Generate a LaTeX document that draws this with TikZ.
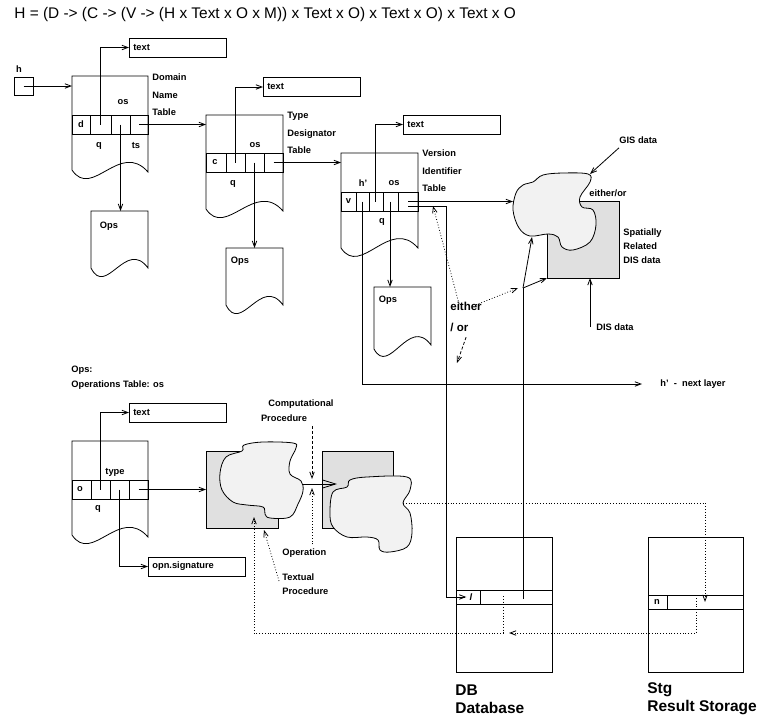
\documentclass[tikz,border=0pt]{standalone}
\usepackage{fontspec}
\setmainfont{Liberation Sans}
\usetikzlibrary{arrows.meta}
\tikzset{
  lbl/.style={font=\fontsize{9.3}{11}\selectfont\bfseries, inner sep=0pt},
  tabtitle/.style={lbl, anchor=west, align=left, font=\fontsize{9.3}{17.5}\selectfont\bfseries},
  note/.style={lbl, anchor=west, align=left, font=\fontsize{9.3}{14}\selectfont\bfseries},
  txtbox/.style={draw, lbl, anchor=west, text width=89pt, inner xsep=4pt, minimum height=19pt, align=left},
  biglbl/.style={inner sep=0pt, anchor=west, align=left, font=\fontsize{15.5}{18}\selectfont\bfseries},
  greybox/.style={fill=black!12},
  blob/.style={fill=black!5, smooth cycle, tension=0.6},
  dots/.style={dotted},
  dashes/.style={dash pattern=on 3pt off 2pt},
}
\begin{document}
\begin{tikzpicture}[x=1pt,y=-1pt,line width=0.8pt,>={Straight Barb[length=6pt,width=4.5pt]}]
\useasboundingbox (0,0) rectangle (758,720);
\node[anchor=west, inner sep=0pt, font=\fontsize{15.4}{18}\selectfont] (hdr) at (14,15)
  {H = (D -> (C -> (V -> (H x Text x O x M)) x Text x O) x Text x O) x Text x O};

% h
\node[draw, minimum width=19pt, minimum height=18pt, inner sep=0pt] (hbox) at (23.5,86) {};
\node[lbl] (hlbl) at (19,69) {h};

% domain name table
\begin{scope}[shift={(72,76)}]
  \draw (0,94) -- (0,0) -- (76,0) -- (76,96) .. controls (48,64) and (20,124) .. (0,94);
  \draw (0,39) rectangle (76,58) (18,39) -- (18,58) (39,39) -- (39,58) (58,39) -- (58,58);
  \coordinate (dn) at (0,0);
  \node[lbl] (dn1) at (9,48.5) {d};
  \coordinate (dn2) at (28.5,48.5);
  \coordinate (dn3) at (48.5,48.5);
  \coordinate (dn4) at (67,48.5);
  \node[lbl] (dnos) at (51,26) {os};
  \node[lbl] (dnq) at (27,70) {q};
  \node[lbl] (dnts) at (64,70) {ts};
\end{scope}
\node[tabtitle] (dntitle) at (152,95) {Domain\\Name\\Table};
\node[txtbox] (dntext) at (129,47.5) {text};

% type designator table
\begin{scope}[shift={(206,115)}]
  \draw (0,94) -- (0,0) -- (77,0) -- (77,96) .. controls (49,64) and (20,124) .. (0,94);
  \draw (0,38) rectangle (77,57) (20,38) -- (20,57) (39,38) -- (39,57) (58,38) -- (58,57);
  \coordinate (td) at (0,0);
  \node[lbl] (td1) at (9,47.5) {c};
  \coordinate (td2) at (29.5,47.5);
  \coordinate (td3) at (48.5,47.5);
  \coordinate (td4) at (67.5,47.5);
  \node[lbl] (tdos) at (49,30) {os};
  \node[lbl] (tdq) at (27,69) {q};
\end{scope}
\node[tabtitle] (tdtitle) at (287,133) {Type\\Designator\\Table};
\node[txtbox] (tdtext) at (263,87) {text};

% version identifier table
\begin{scope}[shift={(341,153)}]
  \draw (0,95) -- (0,0) -- (77,0) -- (77,95) .. controls (49,63) and (20,125) .. (0,95);
  \draw (0,39) rectangle (77,58) (15,39) -- (15,58) (28,39) -- (28,58) (42,39) -- (42,58) (57,39) -- (57,58);
  \coordinate (vi) at (0,0);
  \node[lbl] (vi1) at (7.5,48.5) {v};
  \coordinate (vi2) at (21,48.5);
  \coordinate (vi3) at (34,48.5);
  \coordinate (vi4) at (49,48.5);
  \coordinate (vi5) at (67,48.5);
  \node[lbl] (vih) at (22,30) {h’};
  \node[lbl] (vios) at (53,30) {os};
  \node[lbl] (viq) at (41,69) {q};
\end{scope}
\node[tabtitle] (vititle) at (422,171) {Version\\Identifier\\Table};
\node[txtbox] (vitext) at (403,124.5) {text};

% ops boxes
\begin{scope}[shift={(91,211)}]
  \draw (0,57) -- (0,0) -- (57,0) -- (57,57) .. controls (35,27) and (15,87) .. (0,57);
  \coordinate (ops1) at (28.5,0);
  \node[lbl] (ops1l) at (18,15) {Ops};
\end{scope}
\begin{scope}[shift={(226,248)}]
  \draw (0,57) -- (0,0) -- (57,0) -- (57,57) .. controls (35,27) and (15,87) .. (0,57);
  \coordinate (ops2) at (28.5,0);
  \node[lbl] (ops2l) at (14,13) {Ops};
\end{scope}
\begin{scope}[shift={(374,287)}]
  \draw (0,62) -- (0,0) -- (57,0) -- (57,58) .. controls (35,28) and (15,90) .. (0,62);
  \coordinate (ops3) at (28.5,0);
  \node[lbl] (ops3l) at (14,13) {Ops};
\end{scope}

\draw[->] (hbox.center) -- (hbox.center -| dn);
\draw[->] (dn2) |- (dntext.west);
\draw[->] (dn3) -- (dn3 |- ops1);
\draw[->] (dn4) -- (dn4 -| td);
\draw[->] (td2) |- (tdtext.west);
\draw[->] (td3) -- (td3 |- ops2);
\draw[->] (td4) -- (td4 -| vi);
\draw[->] (vi3) |- (vitext.west);
\draw[->] (vi4) -- (vi4 |- ops3);

% GIS / DIS data
\draw[greybox] (547,201) rectangle (619,278);
\draw[blob] plot coordinates {(533,182) (543,175) (563,173) (588,174) (590,182) (580,197) (582,207)
  (593,210) (596,225) (590,242) (573,250) (562,247) (558,237) (548,234) (530,236) (519,228)
  (513,210) (516,193) (523,185)};
\coordinate (gisw) at (513,201);
\coordinate (gisn) at (590,174);
\coordinate (gisb) at (532,237);
\coordinate (dissw) at (547,278);
\coordinate (disb) at (590,278);
\coordinate (split) at (523,288);
\node[lbl, anchor=west] (gisl) at (619,140) {GIS data};
\node[lbl, anchor=west] (eo) at (589,193) {either/or};
\node[note] (spl) at (623,246) {Spatially\\Related\\DIS data};
\node[lbl, anchor=west] (disl) at (596,327) {DIS data};
\draw[->] ([yshift=-4pt]gisl.south west) -- (gisn);
\draw[->] (disl.west -| disb) -- (disb);
\draw[->] (split) -- (gisb);
\draw[->] (split) -- (dissw);

% either / or
\node[biglbl, font=\fontsize{11.5}{21}\selectfont\bfseries] (eith) at (450,317) {either\\/ or};
\coordinate (vitip) at (433,206);
\coordinate (eordn) at (457,363);
\draw[dots,->] ([xshift=9pt,yshift=-2pt]eith.north west) -- (vitip);
\draw[dots,->] ([xshift=-6pt,yshift=-3pt]eith.north east) -- ([xshift=-5pt]split);
\draw[dashes,->] ([xshift=-16pt,yshift=-5pt]eith.south east) -- (eordn);

% next layer
\node[lbl, anchor=west] (nextl) at (660,384) {h’~~-~~next layer};
\draw[->] (vi2) |- ([xshift=-18pt]nextl.west);
\draw[->] (vi5) -- (vi5 -| gisw);

% operations table
\node[note, font=\fontsize{9.3}{15}\selectfont\bfseries] (opsl) at (71,377.5) {Ops:\\Operations Table: os};
\begin{scope}[shift={(72,441)}]
  \draw (0,94) -- (0,0) -- (76,0) -- (76,96) .. controls (48,64) and (20,124) .. (0,94);
  \draw (0,39) rectangle (76,58) (19,39) -- (19,58) (38,39) -- (38,58) (57,39) -- (57,58);
  \node[lbl] (op1) at (8,48.5) {o};
  \coordinate (op2) at (28.5,48.5);
  \coordinate (op3) at (47.5,48.5);
  \coordinate (op4) at (66.5,48.5);
  \node[lbl] (optype) at (43,31) {type};
  \node[lbl] (opq) at (26,68) {q};
\end{scope}
\node[txtbox] (optext) at (129,412.5) {text};
\node[txtbox] (opn) at (148,566.5) {opn.signature};
\draw[->] (op2) |- (optext.west);
\draw[->] (op3) |- (opn.west);

% procedures
\draw[greybox] (206,451) rectangle (278,528);
\draw[blob] plot coordinates {(226,457) (242,451) (244,445) (263,442) (293,443) (296,448) (290,461)
  (290,474) (301,481) (303,491) (298,504) (290,517) (270,518) (265,514) (263,507) (247,505)
  (233,502) (222,490) (220,473)};
\draw[greybox] (322,451) rectangle (393,528);
\draw[blob] plot coordinates {(347,487) (350,480) (367,477) (407,477) (410,490) (403,503) (410,513)
  (412,533) (407,547) (390,552) (380,550) (378,540) (367,537) (347,537) (333,527) (330,513)
  (333,492)};
\coordinate (pr1) at (206,451);
\coordinate (pr1b) at (254,517);
\coordinate (pr1c) at (264,530);
\coordinate (cl1e) at (303,484);
\coordinate (cl2w) at (337,484);
\coordinate (cl2e) at (403,503);
\coordinate (opj) at (312,484);
\draw[->] (op4) -- (op4 -| pr1);
\draw[-{Straight Barb[length=13pt,width=8pt]}] (cl1e) -- (cl2w);

\node[lbl] (cproc1) at (301,404) {Computational};
\node[lbl] (cproc2) at (284,418) {Procedure};
\node[lbl, anchor=west] (oper) at (282,553) {Operation};
\node[note] (tproc) at (282,584) {Textual\\Procedure};
\draw[dashes,->] (opj |- cproc2.south) ++(0,4) -- ([yshift=5pt]opj);
\draw[dots,->] (oper.north -| opj) ++(0,-4) -- ([yshift=-4pt]opj);
\draw[dots,->] ([xshift=-3pt,yshift=3pt]tproc.west) -- (pr1c);

% database and result storage
\draw (456,537) rectangle (552,672) (456,590) -- (552,590) (456,604) -- (552,604) (480,590) -- (480,604);
\node[lbl, font=\fontsize{9.3}{11}\selectfont\bfseries\itshape] (dbl) at (471,597) {l};
\coordinate (dbv) at (523,599);
\coordinate (dbo) at (503,596);
\coordinate (dbret) at (509,633);
\node[biglbl] (dbname) at (455,699) {DB\\Database};
\draw (648,537) rectangle (743,672) (648,595) -- (743,595) (648,609) -- (743,609) (667,595) -- (667,609);
\node[lbl] (stgn) at (657,602) {n};
\coordinate (stgin) at (705,602);
\coordinate (stgo) at (696,598);
\node[biglbl] (stgname) at (647,699) {Stg\\Result Storage};

\draw[->] ([yshift=-5pt]vi5) -- ++(38,0) |- ([xshift=-3pt]dbl.west);
\draw (dbv) -- (split);
\draw[dots,->] (cl2e) -| (stgin);
\draw[dots,->] (stgo) |- (dbret);
\draw[dots,->] (dbo) -- (dbo |- dbret) -| (pr1b);
\end{tikzpicture}
\end{document}
